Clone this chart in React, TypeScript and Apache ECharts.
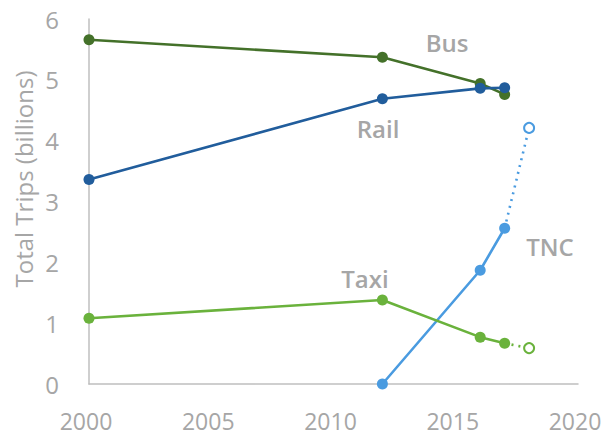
import React, { useEffect, useRef } from "react";
import * as echarts from "echarts";

const busData: [number, number][] = [[2000, 5.66], [2012, 5.37], [2016, 4.94], [2017, 4.76]];
const railData: [number, number][] = [[2000, 3.36], [2012, 4.69], [2016, 4.86], [2017, 4.87]];
const tncData: [number, number][] = [[2012, 0], [2016, 1.87], [2017, 2.56]];
const tncProjection: [number, number][] = [[2017, 2.56], [2018, 4.21]];
const taxiData: [number, number][] = [[2000, 1.08], [2012, 1.38], [2016, 0.77], [2017, 0.67]];
const taxiProjection: [number, number][] = [[2017, 0.67], [2018, 0.59]];

const yAxisTitle = "Total Trips (billions)";
const seriesLabels = [
  { text: "Bus", x: 447, y: 42 },
  { text: "Rail", x: 378, y: 128 },
  { text: "TNC", x: 550, y: 246 },
  { text: "Taxi", x: 365, y: 278 },
];

const GRAY = "#a6a6a6";
const FONT = "'Open Sans', 'Noto Sans', sans-serif";

export default function App() {
  const ref = useRef<HTMLDivElement>(null);
  useEffect(() => {
    if (!ref.current) return;
    const chart = echarts.init(ref.current, undefined, { renderer: "svg" });
    const solid = (name: string, data: [number, number][], color: string) => ({
      name,
      type: "line",
      data,
      symbol: "circle",
      symbolSize: 11,
      lineStyle: { color, width: 2.6 },
      itemStyle: { color },
      z: 3,
    });
    const proj = (name: string, data: [number, number][], color: string) => ({
      name: name + " projection",
      type: "line",
      data: data.map((d, i) =>
        i === 0 ? { value: d, symbol: "none" } : { value: d }
      ),
      symbol: "circle",
      symbolSize: 10,
      showSymbol: true,
      lineStyle: { color, width: 2.6, type: [2, 5] },
      itemStyle: { color: "#ffffff", borderColor: color, borderWidth: 2 },
      z: 2,
    });
    chart.setOption({
      animation: false,
      backgroundColor: "#ffffff",
      grid: { left: 89, right: 32, top: 19, bottom: 56, containLabel: false },
      xAxis: {
        type: "value",
        min: 2000,
        max: 2020,
        interval: 5,
        axisLine: { show: true, lineStyle: { color: "#bfbfbf", width: 1.5 } },
        axisTick: { show: false },
        splitLine: { show: false },
        axisLabel: {
          color: GRAY,
          fontSize: 23,
          fontFamily: FONT,
          margin: 25,
          padding: [0, 6, 0, 0],
          formatter: (v: number) => String(v),
        },
      },
      yAxis: {
        type: "value",
        min: 0,
        max: 6,
        interval: 1,
        axisLine: { show: true, lineStyle: { color: "#bfbfbf", width: 1.5 } },
        axisTick: { show: false },
        splitLine: { show: false },
        axisLabel: { color: GRAY, fontSize: 24, fontFamily: FONT, margin: 30 },
      },
      series: [
        solid("Bus", busData, "#44712a"),
        solid("Rail", railData, "#215d9c"),
        solid("TNC", tncData, "#4a9be0"),
        solid("Taxi", taxiData, "#6ab23c"),
        proj("TNC", tncProjection, "#4a9be0"),
        proj("Taxi", taxiProjection, "#6ab23c"),
      ],
      graphic: [
        {
          type: "text",
          x: 23,
          y: 179,
          rotation: Math.PI / 2,
          style: {
            text: yAxisTitle,
            fill: GRAY,
            font: `24px ${FONT}`,
            textAlign: "center",
            textVerticalAlign: "middle",
          },
        },
        ...seriesLabels.map((l) => ({
          type: "text",
          x: l.x,
          y: l.y,
          style: {
            text: l.text,
            fill: GRAY,
            font: `600 24px ${FONT}`,
            textAlign: "center",
            textVerticalAlign: "middle",
          },
        })),
      ],
    });
    return () => chart.dispose();
  }, []);
  return <div ref={ref} style={{ width: 610, height: 440, margin: -8 }} />;
}
